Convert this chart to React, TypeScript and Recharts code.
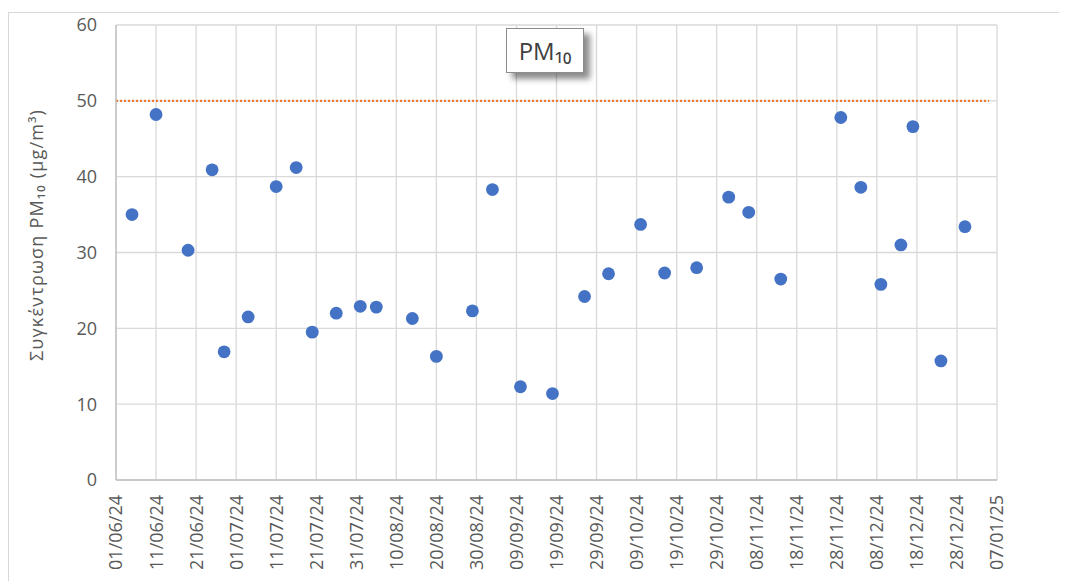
import React from "react";
import {
  ScatterChart,
  Scatter,
  XAxis,
  YAxis,
  CartesianGrid,
  ReferenceLine,
} from "recharts";

// Measurement dates (DD/MM/YY)
const sampleDates = [
  "05/06/24", "11/06/24", "19/06/24", "25/06/24", "28/06/24", "04/07/24",
  "11/07/24", "16/07/24", "20/07/24", "26/07/24", "01/08/24", "05/08/24",
  "14/08/24", "20/08/24", "29/08/24", "03/09/24", "10/09/24", "18/09/24",
  "26/09/24", "02/10/24", "10/10/24", "16/10/24", "24/10/24", "01/11/24",
  "06/11/24", "14/11/24", "29/11/24", "04/12/24", "09/12/24", "14/12/24",
  "17/12/24", "24/12/24", "30/12/24",
];

// PM10 concentrations (μg/m³)
const pm10Values = [
  35.0, 48.2, 30.3, 40.9, 16.9, 21.5,
  38.7, 41.2, 19.5, 22.0, 22.9, 22.8,
  21.3, 16.3, 22.3, 38.3, 12.3, 11.4,
  24.2, 27.2, 33.7, 27.3, 28.0, 37.3,
  35.3, 26.5, 47.8, 38.6, 25.8, 31.0,
  46.6, 15.7, 33.4,
];

// x-axis tick labels
const xTickLabels = [
  "01/06/24", "11/06/24", "21/06/24", "01/07/24", "11/07/24", "21/07/24",
  "31/07/24", "10/08/24", "20/08/24", "30/08/24", "09/09/24", "19/09/24",
  "29/09/24", "09/10/24", "19/10/24", "29/10/24", "08/11/24", "18/11/24",
  "28/11/24", "08/12/24", "18/12/24", "28/12/24", "07/01/25",
];

const yTicks = [0, 10, 20, 30, 40, 50, 60];

// Limit value line (μg/m³) and its date span
const limitValue = 50;
const limitStart = "01/06/24";
const limitEnd = "05/01/25";

const toDay = (s: string) => {
  const [d, m, y] = s.split("/").map(Number);
  const base = Date.UTC(2024, 5, 1);
  return Math.round((Date.UTC(2000 + y, m - 1, d) - base) / 86400000);
};

const data = sampleDates.map((d, i) => ({ x: toDay(d), y: pm10Values[i] }));
const xTicks = xTickLabels.map(toDay);
const labelByDay: Record<number, string> = {};
xTickLabels.forEach((l) => (labelByDay[toDay(l)] = l));

const FONT = "'Open Sans', 'Noto Sans', sans-serif";

const XTick = (props: any) => {
  const { x, y, payload } = props;
  const ty = y + 13;
  return (
    <text
      transform={`translate(${x}, ${ty}) rotate(-90)`}
      textAnchor="end"
      dy="0.36em"
      fontSize={18}
      fill="#595959"
      fontFamily={FONT}
    >
      {labelByDay[payload.value]}
    </text>
  );
};

const Dot = (props: any) => (
  <circle cx={props.cx} cy={props.cy} r={6.4} fill="#4472C4" />
);

export default function App() {
  return (
    <div style={{ position: "relative", width: 1059, height: 573, overflow: "hidden" }}>
      <div
        style={{
          position: "absolute",
          left: 0,
          top: 4,
          width: 1080,
          height: 600,
          border: "1px solid #d9d9d9",
          boxSizing: "border-box",
        }}
      />
      <div style={{ position: "absolute", left: 0, top: 0 }}>
        <ScatterChart
          width={1059}
          height={573}
          margin={{ top: 17, right: 70, bottom: 11, left: 48 }}
        >
          <CartesianGrid stroke="#d9d9d9" strokeWidth={1.3} />
          <XAxis
            type="number"
            dataKey="x"
            domain={[0, 220]}
            ticks={xTicks}
            interval={0}
            height={90}
            tick={<XTick />}
            tickLine={false}
            tickSize={0}
            axisLine={{ stroke: "#bfbfbf", strokeWidth: 1.3 }}
          />
          <YAxis
            type="number"
            dataKey="y"
            domain={[0, 60]}
            ticks={yTicks}
            width={60}
            tickLine={false}
            tickSize={6}
            tickMargin={13}
            axisLine={{ stroke: "#bfbfbf", strokeWidth: 1.3 }}
            tick={{ fontSize: 18, fill: "#595959", fontFamily: FONT }}
            label={{
              content: () => (
                <text
                  transform="translate(29, 227) rotate(-90)"
                  textAnchor="middle"
                  dy="0.36em"
                  fontSize={18}
                  letterSpacing={1.2}
                  fill="#595959"
                  fontFamily={FONT}
                >
                  Συγκέντρωση PM₁₀ (μg/m³)
                </text>
              ),
            }}
          />
          <ReferenceLine
            segment={[
              { x: toDay(limitStart), y: limitValue },
              { x: toDay(limitEnd), y: limitValue },
            ]}
            stroke="#ED7D31"
            strokeWidth={2.2}
            strokeDasharray="2 2"
          />
          <Scatter data={data} shape={<Dot />} isAnimationActive={false} />
        </ScatterChart>
      </div>
      <div
        style={{
          position: "absolute",
          left: 498,
          top: 20,
          width: 78,
          height: 45,
          border: "1.5px solid #8c8c8c",
          background: "#fff",
          boxSizing: "border-box",
          boxShadow: "6px 6px 6px rgba(0,0,0,0.45)",
          display: "flex",
          alignItems: "center",
          justifyContent: "center",
          fontFamily: FONT,
          fontSize: 24,
          color: "#404040",
        }}
      >
        PM₁₀
      </div>
    </div>
  );
}
